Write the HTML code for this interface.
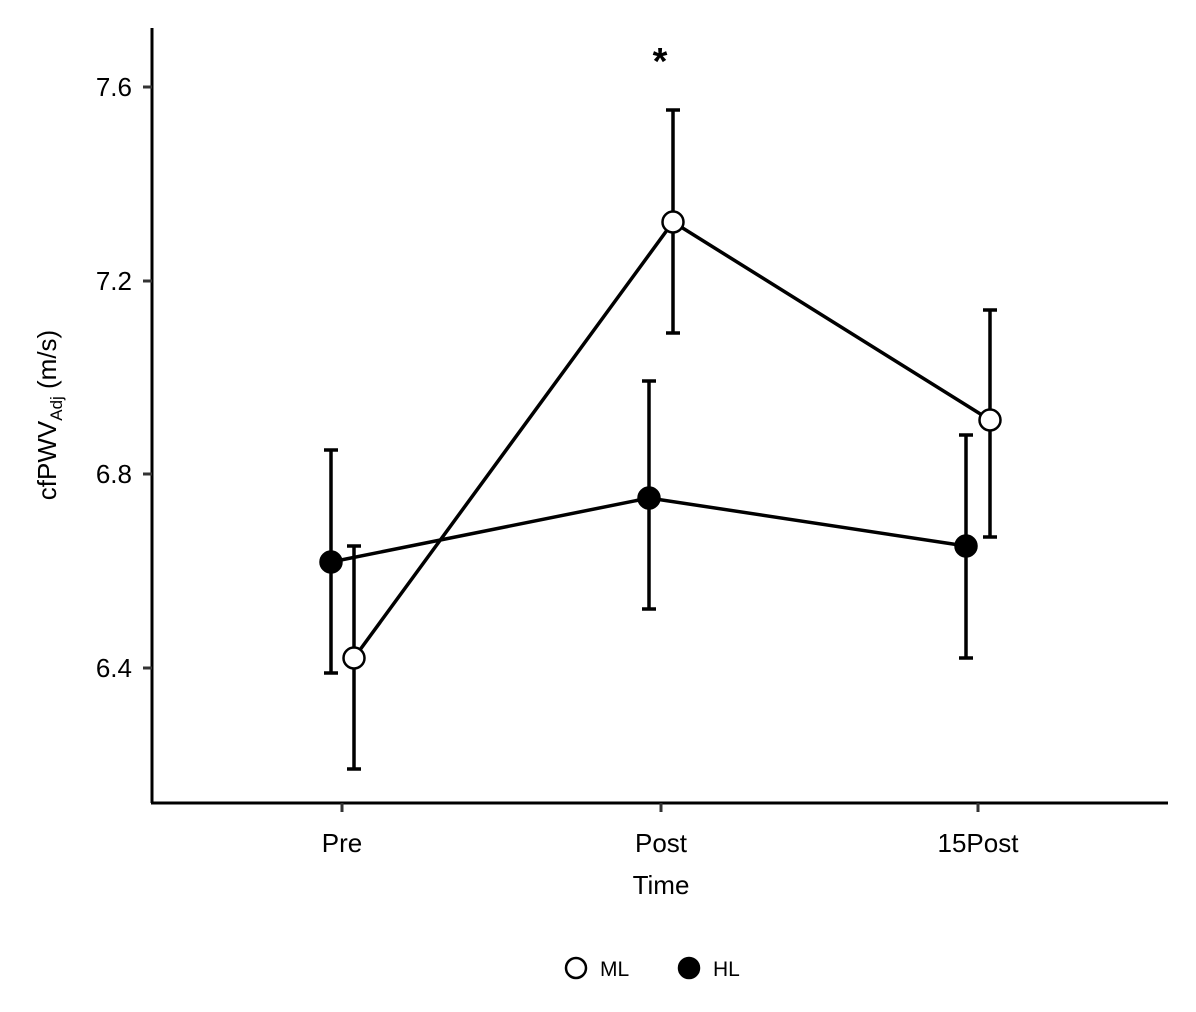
<!DOCTYPE html>
<html><head><meta charset="utf-8"><style>
html,body{margin:0;padding:0;background:#fff;}
svg text{font-family:"Liberation Sans",sans-serif;fill:#000;}
</style></head><body>
<svg width="1196" height="1007" viewBox="0 0 1196 1007" xmlns="http://www.w3.org/2000/svg">
<rect width="1196" height="1007" fill="#fff"/>
<line x1="152" y1="28" x2="152" y2="803" stroke="#000" stroke-width="3"/>
<line x1="151" y1="803" x2="1168" y2="803" stroke="#000" stroke-width="3"/>
<g stroke="#333" stroke-width="3">
<line x1="143" y1="87" x2="152" y2="87"/>
<line x1="143" y1="281" x2="152" y2="281"/>
<line x1="143" y1="474" x2="152" y2="474"/>
<line x1="143" y1="668" x2="152" y2="668"/>
<line x1="342" y1="803" x2="342" y2="812"/>
<line x1="661" y1="803" x2="661" y2="812"/>
<line x1="978" y1="803" x2="978" y2="812"/>
</g>
<g font-size="26" text-anchor="end">
<text x="132" y="96">7.6</text>
<text x="132" y="290">7.2</text>
<text x="132" y="483">6.8</text>
<text x="132" y="677">6.4</text>
</g>
<g font-size="26" text-anchor="middle">
<text x="342" y="852">Pre</text>
<text x="661" y="852">Post</text>
<text x="978" y="852">15Post</text>
<text x="661" y="894">Time</text>
</g>
<text transform="translate(56,415) rotate(-90)" font-size="26" text-anchor="middle">cfPWV<tspan font-size="17" dy="6">Adj</tspan><tspan dy="-6"> (m/s)</tspan></text>
<text x="660" y="74" font-size="38" font-weight="bold" text-anchor="middle">*</text>
<g stroke="#000" stroke-width="3.5" fill="none">
<path d="M354 546V769M347 546H361M347 769H361"/>
<path d="M673 110V333M666 110H680M666 333H680"/>
<path d="M990 310V537M983 310H997M983 537H997"/>
<path d="M331 450V673M324 450H338M324 673H338"/>
<path d="M649 381V609M642 381H656M642 609H656"/>
<path d="M966 435V658M959 435H973M959 658H973"/>
</g>
<polyline points="354,658 673,222 990,420" fill="none" stroke="#000" stroke-width="3.5"/>
<polyline points="331,562 649,498 966,546" fill="none" stroke="#000" stroke-width="3.5"/>
<g stroke="#000" stroke-width="2.5">
<circle cx="354" cy="658" r="10.5" fill="#fff"/>
<circle cx="673" cy="222" r="10.5" fill="#fff"/>
<circle cx="990" cy="420" r="10.5" fill="#fff"/>
<circle cx="331" cy="562" r="10.5" fill="#000"/>
<circle cx="649" cy="498" r="10.5" fill="#000"/>
<circle cx="966" cy="546" r="10.5" fill="#000"/>
</g>
<circle cx="576" cy="968" r="10" fill="#fff" stroke="#000" stroke-width="2.5"/>
<text x="600" y="976" font-size="21">ML</text>
<circle cx="689" cy="968" r="10" fill="#000" stroke="#000" stroke-width="2.5"/>
<text x="713" y="976" font-size="21">HL</text>
</svg>
</body></html>
